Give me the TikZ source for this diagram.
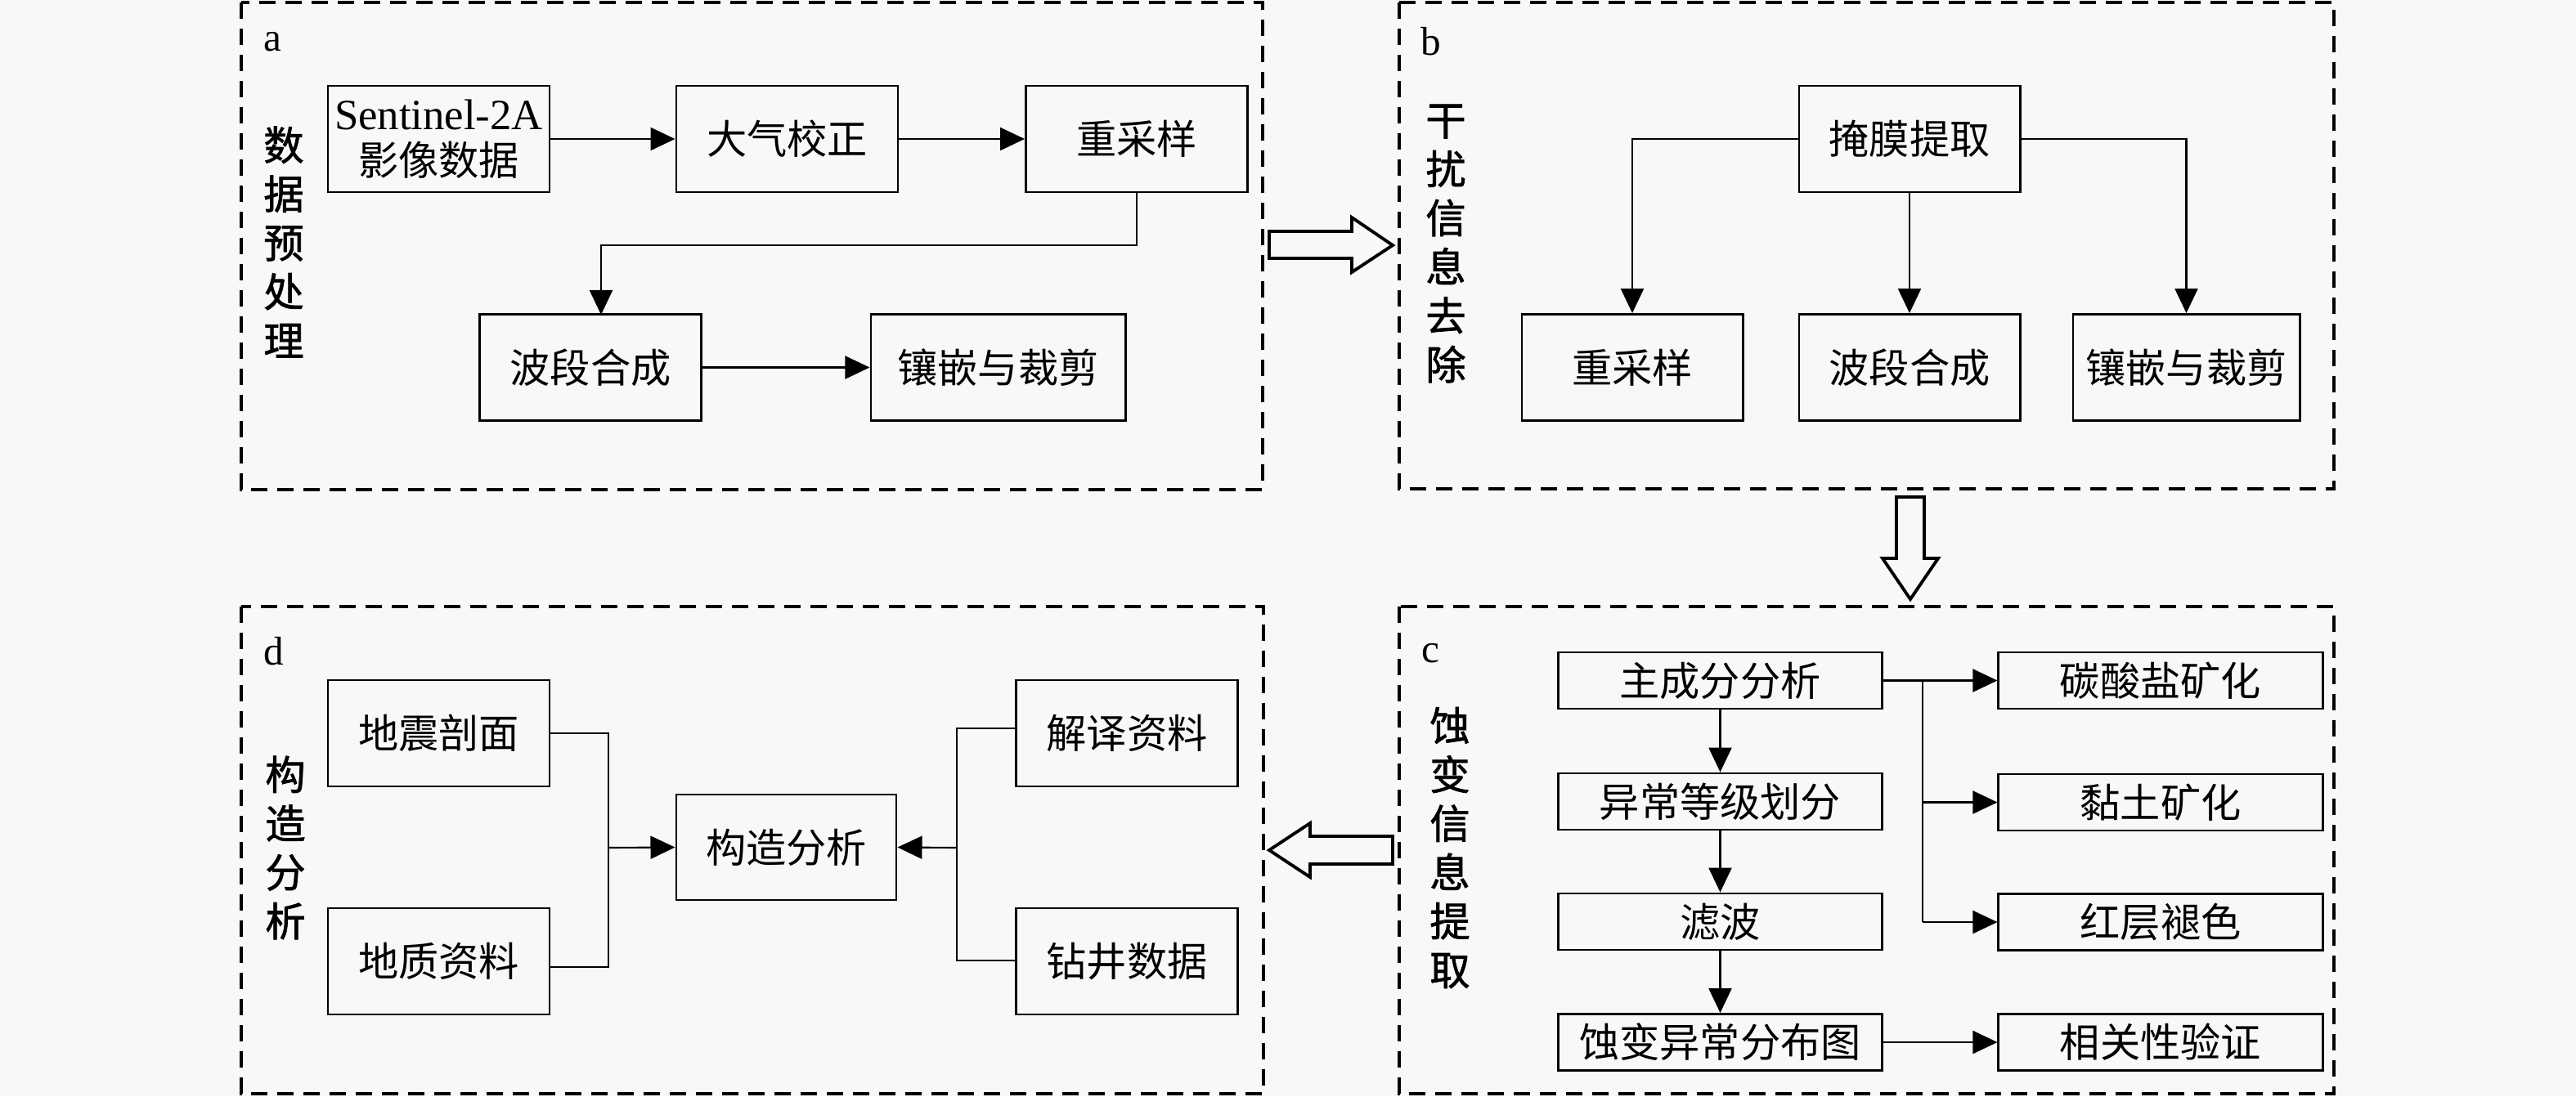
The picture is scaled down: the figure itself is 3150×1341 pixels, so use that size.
\documentclass[tikz,border=0pt]{standalone}
\usepackage{fontspec}
\setmainfont{Liberation Serif}
\newfontfamily\cjk{Noto Sans CJK SC}
\newfontfamily\cjkb[FakeBold=1.5]{Noto Sans CJK SC}
\usepackage{tikz}
\usetikzlibrary{arrows.meta,positioning,calc}
\definecolor{bgc}{RGB}{248,248,248}

\begin{document}
\begin{tikzpicture}[x=0.01cm,y=-0.01cm,
	box/.style={draw,line width=0.8pt,fill=bgc,inner sep=0pt,minimum width=2.71cm,minimum height=1.3cm,font=\fontsize{14}{17}\selectfont\cjk,align=center},
	sbox/.style={box,minimum width=3.95cm,minimum height=0.69cm},
	frame/.style={line width=0.9pt,dash pattern=on 5.7pt off 3.4pt},
	ttl/.style={font=\fontsize{14}{17}\selectfont\cjkb,align=center,inner sep=0pt},
	lbl/.style={font=\fontsize{14}{17}\selectfont,inner sep=0pt},
	con/.style={line width=0.6pt},
	arr/.style={con,-{Triangle[length=0.3cm,width=0.28cm]}},
	fat/.style={line width=1.1pt,fill=bgc,line join=miter}]
	\fill[bgc] (0,0) rectangle (3150,1341);
	\useasboundingbox (0,0) rectangle (3150,1341);
	% frames
	\draw[frame] (295,3) rectangle (1544,599);
	\draw[frame] (1711,3) rectangle (2854,598);
	\draw[frame] (1711,742) rectangle (2854,1338);
	\draw[frame] (295,742) rectangle (1545,1338);
	\node[lbl] (la) at (333,51) {a};
	\node[lbl] (lb) at (1750,51) {b};
	\node[lbl] (lc) at (1749,799) {c};
	\node[lbl] (ld) at (335,797) {d};
	\node[ttl] (ta) at (347,296) {数\\据\\预\\处\\理};
	\node[ttl] (tb) at (1768,298) {干\\扰\\信\\息\\去\\除};
	\node[ttl] (tc) at (1773,1037) {蚀\\变\\信\\息\\提\\取};
	\node[ttl] (td) at (349,1037) {构\\造\\分\\析};

	% a
	\node[box,font=\fontsize{15}{16}\selectfont] (a1) at (536.5,170) {Sentinel-2A\\{\fontsize{14}{16}\selectfont\cjk 影像数据}};
	\node[box] (a2) at (962.5,170) {大气校正};
	\node[box] (a3) at (1390,170) {重采样};
	\node[box] (a4) at (722,449.5) {波段合成};
	\node[box,minimum width=3.11cm] (a5) at (1220.5,449.5) {镶嵌与裁剪};
	\draw[arr] (a1) -- (a2);
	\draw[arr] (a2) -- (a3);
	\draw[arr] (a3.south) |- (735,300) -- (735,385);
	\draw[arr] (a4) -- (a5);

	% b
	\node[box,minimum width=2.7cm] (b1) at (2335,170) {掩膜提取};
	\node[box,minimum width=2.7cm] (b2) at (1996,449.5) {重采样};
	\node[box,minimum width=2.7cm] (b3) at (2335,449.5) {波段合成};
	\node[box,minimum width=2.77cm] (b4) at (2673.5,449.5) {镶嵌与裁剪};
	\draw[arr] (b1.west) -| (b2.north);
	\draw[arr] (b1) -- (b3);
	\draw[arr] (b1.east) -| (b4.north);

	% c
	\node[sbox] (c1) at (2103.5,832.5) {主成分分析};
	\node[sbox] (c2) at (2103.5,980.5) {异常等级划分};
	\node[sbox] (c3) at (2103.5,1127.5) {滤波};
	\node[sbox] (c4) at (2103.5,1275) {蚀变异常分布图};
	\node[sbox,minimum width=3.96cm] (c5) at (2642,832.5) {碳酸盐矿化};
	\node[sbox,minimum width=3.96cm] (c6) at (2642,981.5) {黏土矿化};
	\node[sbox,minimum width=3.96cm] (c7) at (2642,1128) {红层褪色};
	\node[sbox,minimum width=3.96cm] (c8) at (2642,1275) {相关性验证};
	\draw[arr] (c1) -- (c2);
	\draw[arr] (c2) -- (c3);
	\draw[arr] (c3) -- (c4);
	\draw[arr] (c1.east) -- (c5.west);
	\coordinate (bus) at (2351,833);
	\draw[con] (bus) -- (bus |- c7);
	\draw[arr] (bus |- c6) -- (c6.west);
	\draw[arr] (bus |- c7) -- (c7.west);
	\draw[arr] (c4) -- (c8);

	% d
	\node[box] (d1) at (536.5,897) {地震剖面};
	\node[box] (d2) at (536.5,1176) {地质资料};
	\node[box,minimum width=2.69cm,minimum height=1.29cm] (d3) at (961.5,1036.5) {构造分析};
	\node[box] (d4) at (1378,897) {解译资料};
	\node[box] (d5) at (1378,1176) {钻井数据};
	\draw[con] (d1.east) -| (744,1183) -- (d2.east |- 0,1183);
	\draw[arr] (744,1037) -- (d3.west);
	\draw[con] (d4.west |- 0,891) -| (1170,1175) -- (d5.west |- 0,1175);
	\draw[arr] (1170,1037) -- (d3.east);

	% block arrows
	\draw[fat] (1552,283) -- (1653,283) -- (1653,266) -- (1703,300) -- (1653,333) -- (1653,316) -- (1552,316) -- cycle;
	\draw[fat] (2319,608) -- (2353,608) -- (2353,683) -- (2370,683) -- (2336,733) -- (2302,683) -- (2319,683) -- cycle;
	\draw[fat] (1703,1023) -- (1602,1023) -- (1602,1007) -- (1552,1040) -- (1602,1073) -- (1602,1057) -- (1703,1057) -- cycle;
\end{tikzpicture}
\end{document}
